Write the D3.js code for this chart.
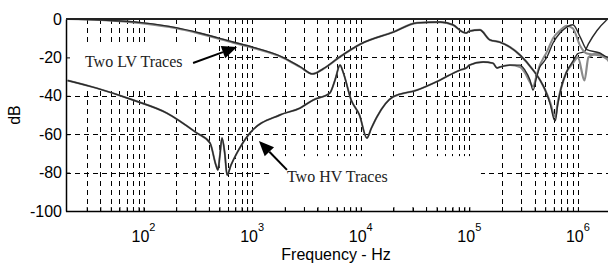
<!DOCTYPE html>
<html>
<head>
<meta charset="utf-8">
<script src="https://cdn.jsdelivr.net/npm/d3@7"></script>
<style>
  body { margin: 0; background: #fff; }
  svg { display: block; }
</style>
</head>
<body>
<svg id="chart" width="608" height="268"></svg>
<script>
// LV traces (upper pair)
var lvFreq = [20, 40, 100, 200, 330, 670, 1000, 1900, 2800, 3600, 4500, 6400, 10000, 20000, 33000, 54000, 71000, 87000, 94000, 100000, 125000, 155000, 190000, 236000, 293000, 387000, 450000, 500000, 560000, 600000, 620000, 650000, 700000, 780000, 900000, 1000000, 1150000, 1250000, 1500000, 1800000, 2000000];
var lvA = [0, -0.5, -2, -4.5, -7.3, -12, -14.6, -19.8, -25, -28.6, -26, -19.8, -13, -6.8, -2, -1.6, -3.1, -6.8, -7.3, -6.3, -5.7, -10.9, -12, -14.6, -18.8, -26.6, -32, -37, -45, -52, -53, -45, -36, -28, -22, -18, -17, -13, -6, -1, 1];
var lvB = [0, -0.5, -2.3, -4.8, -7.6, -12.3, -14.9, -20, -25.2, -28.6, -26, -19.8, -13, -6.8, -2, -1.6, -3.1, -6.8, -7.3, -6.3, -5.7, -10.9, -12, -14.6, -18.8, -26.6, -32, -37, -44, -50, -51, -44, -36, -28, -23, -20, -32, -20, -18, -20, -22];

// HV traces (lower pair)
var hvFreq = [20, 37, 80, 164, 310, 410, 464, 485, 505, 528, 560, 588, 640, 725, 955, 1800, 2760, 3640, 5200, 5800, 6450, 6880, 8170, 9740, 11400, 12500, 14100, 19800, 33000, 53700, 82000, 94000, 100000, 134000, 165000, 180000, 192000, 237000, 293000, 325000, 362000, 386000, 418000, 446000, 475000, 519000, 590000, 683000, 790000, 900000, 1050000, 1210000, 1590000, 1860000, 2000000];
var hvA = [-32, -36, -42.2, -49, -59.4, -64.6, -76, -78.6, -71, -62, -70, -81.3, -76, -69.8, -59.4, -50, -46.4, -42.2, -38.5, -31.8, -24, -27.6, -42.2, -50, -62, -57, -51, -40.6, -37, -31.8, -26.6, -25.5, -24, -22.4, -23, -25.5, -25, -24, -24, -26.6, -31.8, -37, -30, -25, -23, -19.8, -12.5, -7.3, -4.2, -3, -9.4, -16, -17.7, -19.8, -20];
var hvB = [-32, -36, -42.2, -49, -59.4, -64.6, -76, -78.6, -71, -62, -70, -81.3, -76, -69.8, -59.4, -50, -46.4, -42.2, -38.5, -31.8, -24, -27.6, -42.2, -50, -62, -57, -51, -40.6, -37, -31.8, -26.6, -25.5, -24, -22.4, -23, -25.5, -25, -24, -25, -28, -33, -35, -29, -24, -21, -17, -10, -6, -3.5, -5, -14, -18, -19, -21, -24];

var yTicks = [0, -20, -40, -60, -80, -100];
var xDecades = [100, 1000, 10000, 100000, 1000000];
var xExp = ["2", "3", "4", "5", "6"];

var svg = d3.select("#chart");

var x = d3.scaleLog().domain([20, 2e6]).range([67.6, 610.6]);
var y = d3.scaleLinear().domain([-100, 0]).range([211, 19]);

svg.append("defs").append("clipPath").attr("id", "plot")
  .append("rect").attr("x", 66).attr("y", 19).attr("width", 560).attr("height", 192);

// grid: every k*10^n on x, major ticks on y
var gridX = [];
for (var n = 1; n <= 6; n++) {
  for (var k = 1; k <= 9; k++) {
    var v = k * Math.pow(10, n);
    if (v > 20 && v <= 2e6) gridX.push(v);
  }
}

var grid = svg.append("g").attr("stroke", "#000").attr("stroke-width", 1)
  .attr("stroke-dasharray", "5,4");
grid.selectAll("line.gx").data(gridX).enter().append("line")
  .attr("class", "gx")
  .attr("x1", (d) => Math.round(x(d)) + 0.5).attr("x2", (d) => Math.round(x(d)) + 0.5)
  .attr("y1", y(0)).attr("y2", y(-100));
grid.selectAll("line.gy").data([-20, -40, -60, -80]).enter().append("line")
  .attr("class", "gy")
  .attr("x1", 66).attr("x2", 608)
  .attr("y1", (d) => Math.round(y(d)) + 0.5).attr("y2", (d) => Math.round(y(d)) + 0.5);

// white boxes behind the two labels
svg.append("rect")
  .attr("x", x(20) - 1).attr("y", y(-13))
  .attr("width", x(486) - x(20)).attr("height", y(-37.5) - y(-13))
  .attr("fill", "#fff");
svg.append("rect")
  .attr("x", x(1556)).attr("y", y(-71.4))
  .attr("width", x(128000) - x(1556)).attr("height", y(-97.4) - y(-71.4))
  .attr("fill", "#fff");

// traces
function trace(freq, vals, color, w) {
  var line = d3.line()
    .x((d, i) => x(freq[i]))
    .y((d) => y(d))
    .curve(d3.curveMonotoneX);
  svg.append("path")
    .datum(vals)
    .attr("clip-path", "url(#plot)")
    .attr("fill", "none")
    .attr("stroke", color)
    .attr("stroke-width", w)
    .attr("stroke-linejoin", "round")
    .attr("d", line);
}
trace(lvFreq, lvB, "#8a8a8a", 2.2);
trace(lvFreq, lvA, "#2a2a2a", 1.4);
trace(hvFreq, hvB, "#8a8a8a", 2);
trace(hvFreq, hvA, "#2a2a2a", 1.4);

// axes
var font = "'Liberation Sans', Arial, sans-serif";

var xAxis = svg.append("g")
  .attr("transform", "translate(0," + y(-100) + ")")
  .call(d3.axisBottom(x).tickValues(gridX).tickSizeInner(-4).tickSizeOuter(0).tickFormat(""));
xAxis.select(".domain").attr("d", "M66,0.5H608").attr("stroke", "#000").attr("stroke-width", 1.5);
xAxis.selectAll(".tick line").attr("stroke", "#000");

var yAxis = svg.append("g")
  .attr("transform", "translate(66,0)")
  .call(d3.axisLeft(y).tickValues(yTicks).tickSizeInner(-4).tickSizeOuter(0).tickPadding(4)
    .tickFormat((d) => String(d)));
yAxis.select(".domain").attr("stroke", "#000").attr("stroke-width", 1.5);
yAxis.selectAll(".tick text").attr("font-family", font).attr("font-size", 16).attr("fill", "#000");

// top frame
svg.append("line").attr("x1", 66).attr("x2", 608).attr("y1", y(0)).attr("y2", y(0))
  .attr("stroke", "#222").attr("stroke-width", 2);

// decade labels 10^n
var lab = svg.append("g").attr("font-family", font).attr("fill", "#000");
xDecades.forEach(function (d, i) {
  var t = lab.append("text").attr("x", x(d)).attr("y", 242)
    .attr("text-anchor", "middle").attr("font-size", 16);
  t.append("tspan").text("10");
  t.append("tspan").attr("font-size", 11).attr("dy", -11).text(xExp[i]);
});

lab.append("text").attr("x", 336).attr("y", 260).attr("text-anchor", "middle")
  .attr("font-size", 16).text("Frequency - Hz");
lab.append("text").attr("transform", "translate(20,115) rotate(-90)")
  .attr("text-anchor", "middle").attr("font-size", 16).text("dB");

// annotations
var serif = "'Liberation Serif', 'Times New Roman', serif";
svg.append("text").attr("x", x(28.9)).attr("y", y(-25))
  .attr("font-family", serif).attr("font-size", 16).attr("fill", "#222").text("Two LV Traces");
svg.append("text").attr("x", x(2094)).attr("y", y(-84.9))
  .attr("font-family", serif).attr("font-size", 16).attr("fill", "#222").text("Two HV Traces");

function arrow(f0, d0, f1, d1) {
  var x0 = x(f0), y0 = y(d0), x1 = x(f1), y1 = y(d1);
  var a = Math.atan2(y1 - y0, x1 - x0);
  var L = 15, W = 6.5;
  var bx = x1 - L * Math.cos(a), by = y1 - L * Math.sin(a);
  svg.append("line").attr("x1", x0).attr("y1", y0).attr("x2", bx).attr("y2", by)
    .attr("stroke", "#000").attr("stroke-width", 2);
  svg.append("path")
    .attr("d", "M" + x1 + "," + y1 +
      "L" + (bx + W * Math.sin(a)) + "," + (by - W * Math.cos(a)) +
      "L" + (bx - W * Math.sin(a)) + "," + (by + W * Math.cos(a)) + "Z")
    .attr("fill", "#000");
}
arrow(286, -22.9, 727, -14.6);
arrow(2094, -78.6, 1156, -63.5);
</script>
</body>
</html>
